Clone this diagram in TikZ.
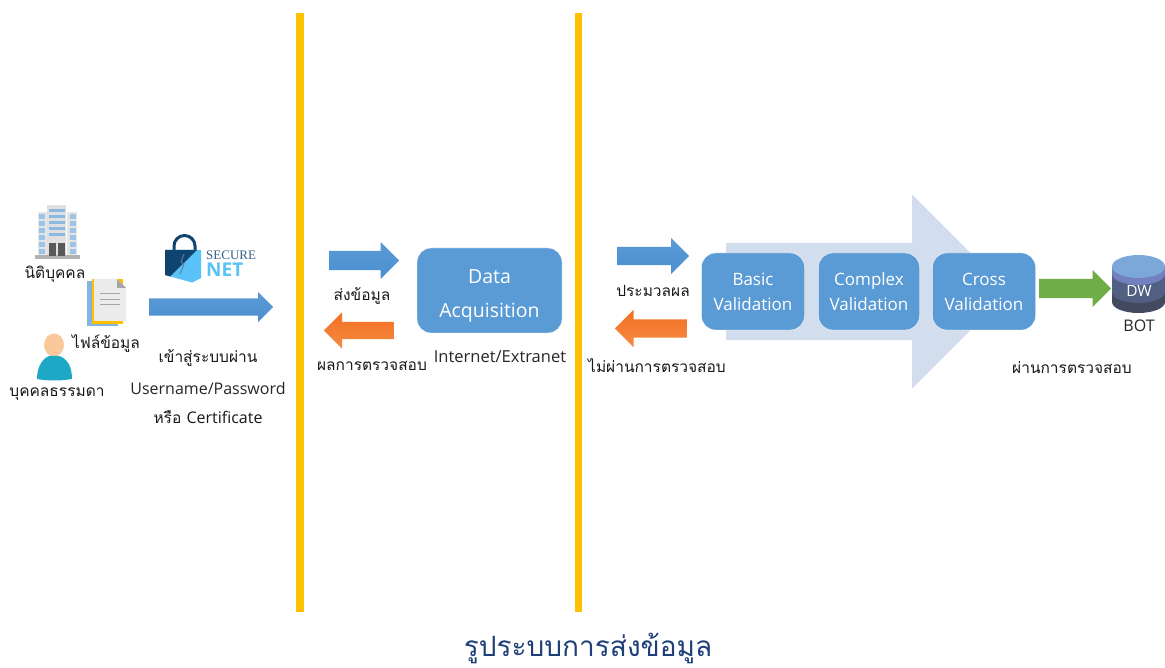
\documentclass[tikz,border=0pt]{standalone}
\usepackage{fontspec}
\setmainfont[Script=Thai]{Loma}
\newfontfamily\latinfont{Open Sans}
\newfontfamily\logofont{Liberation Serif}
\usetikzlibrary{shapes.arrows}
\definecolor{barcol}{HTML}{FFC000}
\definecolor{boxcol}{HTML}{5B9BD5}
\definecolor{bigcol}{HTML}{D2DDEE}
\definecolor{navycol}{HTML}{0F4470}
\definecolor{skycol}{HTML}{5BC2F7}
\definecolor{blueend}{HTML}{4A8FD0}
\definecolor{orangetop}{HTML}{F37021}
\definecolor{orangeend}{HTML}{F58B45}
\definecolor{greencol}{HTML}{70AD47}
\definecolor{captioncol}{HTML}{1F3F78}
\definecolor{tealcol}{HTML}{1FA8C6}
\definecolor{skincol}{HTML}{F9C89B}
\definecolor{dbtop}{HTML}{7BA7D9}
\definecolor{dbone}{HTML}{7280BF}
\definecolor{dbtwo}{HTML}{505F82}
\definecolor{dbthree}{HTML}{434A60}
\tikzset{
  flow/.style={single arrow,anchor=tail,inner xsep=0pt,single arrow head extend=#1,draw=none,text width=0pt},
  blueflow/.style={flow=#1,top color=boxcol,bottom color=blueend},
  orangeflow/.style={flow=#1,shape border rotate=180,top color=orangetop,bottom color=orangeend},
  greenflow/.style={flow=#1,fill=greencol},
  stepbox/.style={draw=white,fill=boxcol,rounded corners=14pt,text=white,align=center,font=\latinfont\fontsize{17}{25}\selectfont},
  lbl/.style={font=\fontsize{15.5}{18}\selectfont,text=black!90,inner sep=0pt},
  latinlbl/.style={font=\latinfont\fontsize{16}{18}\selectfont,text=black!85,inner sep=0pt}
}
\begin{document}
\begin{tikzpicture}[x=1pt,y=-1pt]
    \useasboundingbox (0,0) rectangle (1165,668);
    \fill[white] (0,0) rectangle (1165,668);
    % dividers
    \fill[barcol] (296,13) rectangle (304,612);
    \fill[barcol] (575,13) rectangle (582,612);
    % building
    \fill[black!12] (47,205) rectangle (66,255);
    \fill[black!10] (38,212) rectangle (47,255);
    \fill[black!10] (67,212) rectangle (77,255);
    \fill[black!30] (35,255) rectangle (80,259);
    \foreach \y in {209,215,221,227,233}
      \fill[boxcol!70] (49,\y) rectangle (65,\y+3);
    \foreach \y in {214,221,228,235,242,249}{
      \fill[boxcol!60] (39,\y) rectangle (45,\y+5);
      \fill[boxcol!60] (70,\y) rectangle (76,\y+5);
    }
    \fill[black!65] (49,243) rectangle (55.5,256);
    \fill[black!65] (58,243) rectangle (65,256);
    % documents
    \fill[boxcol!75] (87,281) rectangle (118,326);
    \fill[barcol] (92,279) rectangle (123,324);
    \fill[black!8] (94,279) -- (117,279) -- (126,288) -- (126,321) -- (94,321) -- cycle;
    \fill[black!35] (117,279) -- (126,288) -- (117,288) -- cycle;
    \foreach \y in {294,300,305}
      \draw[black!35,line width=1pt] (100,\y) -- (120,\y);
    % person
    \fill[skincol] (54,345) ellipse (10 and 11.5);
    \fill[tealcol] (37,379) .. controls (37,365) and (44,358) .. (49,356) -- (59,356) .. controls (66,358) and (72,365) .. (72,379) .. controls (60,381) and (48,381) .. (37,379) -- cycle;
    % lock
    \draw[navycol,line width=3pt] (174,252) -- (174,246) arc[start angle=180,end angle=360,radius=10.5] -- (195,252);
    \fill[skycol] (165,250) -- (201,250) -- (201,278) -- (192,282.5) -- (165,275) -- cycle;
    \fill[navycol] (165,250) -- (197,250) -- (170,276.5) -- (165,275) -- cycle;
    \draw[navycol!70,line width=1pt] (184,254) -- (181,262) -- (184,264) -- (180,274);
    \node[inner sep=0pt,text=navycol!85,anchor=west] (secure) at (206,255.5) {\logofont\fontsize{13}{14}\selectfont SECURE};
    \node[inner sep=0pt,text=skycol,anchor=west] (net) at (206,270) {\latinfont\bfseries\fontsize{19}{20}\selectfont NET};
    % big arrow behind the steps
    \node[flow=48.5pt,inner ysep=48.5pt,minimum width=194pt,minimum height=283pt,fill=bigcol] (bigarrow) at (726,291.5) {};
    % steps
    \node[stepbox,minimum width=145pt,minimum height=85pt,font=\latinfont\fontsize{19.5}{34}\selectfont] (acq) at (489.5,290.5) {\smash{\raisebox{-10pt}{Data}}\\\smash{\raisebox{-10pt}{Acquisition}}};
    \node[stepbox,minimum width=103pt,minimum height=77pt] (basic) at (753,291.5) {Basic\\Validation};
    \node[stepbox,minimum width=101pt,minimum height=77pt] (complex) at (869,291.5) {Complex\\Validation};
    \node[stepbox,minimum width=103pt,minimum height=77pt] (cross) at (984,291.5) {Cross\\Validation};
    % arrows
    \node[blueflow=6.5pt,inner ysep=8.5pt,minimum width=30pt,minimum height=124pt] (login) at (149,307) {};
    \node[blueflow=9pt,inner ysep=9.5pt,minimum width=37pt,minimum height=70pt] (send) at (329,260.5) {};
    \node[orangeflow=9.5pt,inner ysep=8.5pt,minimum width=36pt,minimum height=70pt] (result) at (394,330.5) {};
    \node[blueflow=9pt,inner ysep=9pt,minimum width=36pt,minimum height=72pt] (proc) at (617,256) {};
    \node[orangeflow=9.5pt,inner ysep=9pt,minimum width=37pt,minimum height=72pt] (fail) at (687,328.5) {};
    \node[greenflow=9pt,inner ysep=9.5pt,minimum width=37pt,minimum height=72pt] (pass) at (1039,288.5) {};
    % database
    \fill[dbthree] (1112,267) -- (1112,302) arc[start angle=180,end angle=0,x radius=26.5,y radius=11] -- (1165,267) -- cycle;
    \fill[dbtwo] (1112,267) -- (1112,292) arc[start angle=180,end angle=0,x radius=26.5,y radius=11] -- (1165,267) -- cycle;
    \fill[dbone] (1112,267) -- (1112,274) arc[start angle=180,end angle=0,x radius=26.5,y radius=11] -- (1165,267) -- cycle;
    \fill[dbtop] (1138.5,266.5) ellipse (26.5 and 11.5);
    \node[inner sep=0pt,text=white] (dw) at (1139,291) {\latinfont\fontsize{15.5}{18}\selectfont DW};
    % labels
    \node[lbl] (juristic) at (55,274) {นิติบุคคล};
    \node[lbl] (file) at (106,344) {ไฟล์ข้อมูล};
    \node[lbl] (natural) at (57,394) {บุคคลธรรมดา};
    \node[lbl] (enter) at (208,358) {เข้าสู่ระบบผ่าน};
    \node[latinlbl] (userpass) at (208,388) {Username/Password};
    \node[lbl] (cert) at (208,417) {หรือ {\latinfont\fontsize{16}{18}\selectfont Certificate}};
    \node[lbl] (sendlbl) at (362,296) {ส่งข้อมูล};
    \node[lbl] (resultlbl) at (372,366) {ผลการตรวจสอบ};
    \node[latinlbl,font=\latinfont\fontsize{16.5}{18}\selectfont] (netlbl) at (500,357) {Internet/Extranet};
    \node[lbl] (proclbl) at (653,291) {ประมวลผล};
    \node[lbl] (faillbl) at (657,366) {ไม่ผ่านการตรวจสอบ};
    \node[lbl] (passlbl) at (1072,368) {ผ่านการตรวจสอบ};
    \node[latinlbl] (bot) at (1139,326) {BOT};
    \node[inner sep=0pt,text=captioncol] (caption) at (588,648) {\fontsize{28}{32}\selectfont รูประบบการส่งข้อมูล};
  \end{tikzpicture}
\end{document}
